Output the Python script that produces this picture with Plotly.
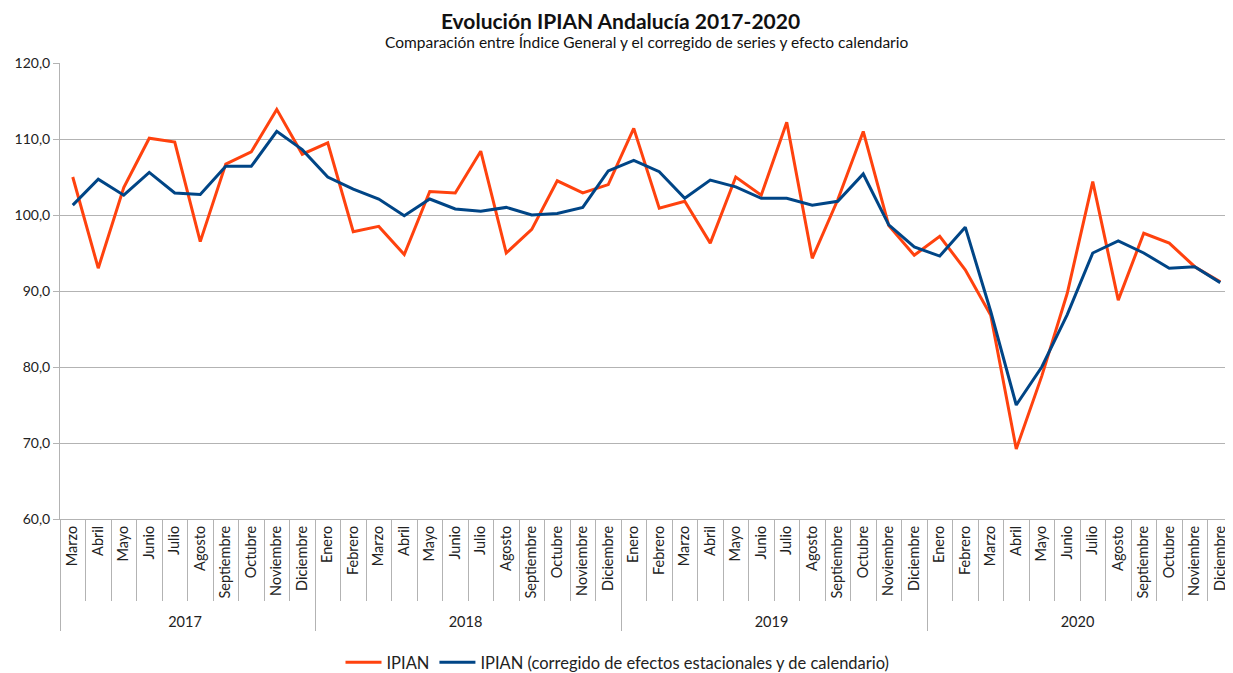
import plotly.graph_objects as go

ZW = "\u200b"  # zero-width marker keeps the 2017 month labels distinct for ordering

years = ["2017"] * 10 + ["2018"] * 12 + ["2019"] * 12 + ["2020"] * 12
months_2017 = ["Marzo", "Abril", "Mayo", "Junio", "Julio", "Agosto", "Septiembre",
               "Octubre", "Noviembre", "Diciembre"]
months_full = ["Enero", "Febrero", "Marzo", "Abril", "Mayo", "Junio", "Julio", "Agosto",
               "Septiembre", "Octubre", "Noviembre", "Diciembre"]
months = [m + ZW for m in months_2017] + months_full * 3

ipian = [105.0, 93.0, 103.6, 110.1, 109.6, 96.5, 106.7, 108.3, 113.9, 108.0,
         109.5, 97.8, 98.5, 94.8, 103.1, 102.9, 108.4, 95.0, 98.1, 104.5, 102.9, 104.0,
         111.4, 100.9, 101.8, 96.3, 105.0, 102.6, 112.2, 94.3, 102.0, 111.0, 98.6, 94.7,
         97.2, 92.8, 86.8, 69.2, 78.8, 89.7, 104.4, 88.8, 97.6, 96.3, 93.2, 91.2]

ipian_corr = [101.3, 104.7, 102.6, 105.6, 102.9, 102.7, 106.4, 106.4, 111.0, 108.6,
              105.0, 103.4, 102.1, 99.9, 102.1, 100.8, 100.5, 101.0, 100.0, 100.2, 101.0, 105.8,
              107.2, 105.7, 102.2, 104.6, 103.7, 102.2, 102.2, 101.3, 101.8, 105.4, 98.7, 95.8,
              94.6, 98.4, 87.3, 75.0, 80.0, 86.9, 95.0, 96.6, 95.0, 93.0, 93.2, 91.1]

title_text = "Evolución IPIAN Andalucía 2017-2020"
subtitle_text = "Comparación entre Índice General y el corregido de series y efecto calendario"

FONT = "Lato"
W, H = 1225, 665  # page body adds an 8px offset

fig = go.Figure()
fig.add_trace(go.Scatter(
    x=[years, months], y=ipian, mode="lines", name="IPIAN",
    line=dict(color="#ff420e", width=3)))
fig.add_trace(go.Scatter(
    x=[years, months], y=ipian_corr, mode="lines",
    name="IPIAN (corregido de efectos estacionales y de calendario)",
    line=dict(color="#004586", width=3)))

fig.update_layout(
    width=W, height=H,
    margin=dict(l=52, r=0, t=55, b=154),
    paper_bgcolor="white", plot_bgcolor="white",
    font=dict(family=FONT, size=13, color="#222"),
    separators=",.",
    title=dict(
        text="<b>" + title_text + "</b>",
        font=dict(family=FONT, size=21, color="#111"),
        x=0.5, xanchor="center", y=1 - 14 / H, yanchor="middle", yref="container",
    ),
    annotations=[dict(
        text=subtitle_text, xref="paper", yref="paper", x=0.5, xanchor="center",
        y=1 + 21 / 456, yanchor="middle", showarrow=False,
        font=dict(family=FONT, size=15.5, color="#111"))],
    showlegend=True,
    legend=dict(orientation="h", x=0.5 - 29 / 1173, xanchor="center", y=1 - 637 / H,
                yanchor="top", yref="container",
                font=dict(family=FONT, size=16.5, color="#222"),
                itemwidth=36, traceorder="normal"),
)

fig.update_yaxes(
    range=[60, 120], dtick=10, tickformat=".1f",
    showgrid=True, gridcolor="#b3b3b3", gridwidth=1,
    showline=True, linecolor="#b3b3b3", linewidth=1,
    ticks="outside", ticklen=6, tickcolor="#b3b3b3",
    tickfont=dict(family=FONT, size=14, color="#222"),
    zeroline=False,
)

fig.update_xaxes(
    type="multicategory", range=[-0.5, 45.5],
    tickson="boundaries", ticks="outside", ticklen=81, tickcolor="#b3b3b3",
    tickangle=-90,
    tickfont=dict(family=FONT, size=14.5, color="#222"),
    showgrid=False, showline=True, linecolor="#b3b3b3", linewidth=1,
    showdividers=True, dividercolor="#b3b3b3", dividerwidth=1,
)

fig.write_html("out.html")
